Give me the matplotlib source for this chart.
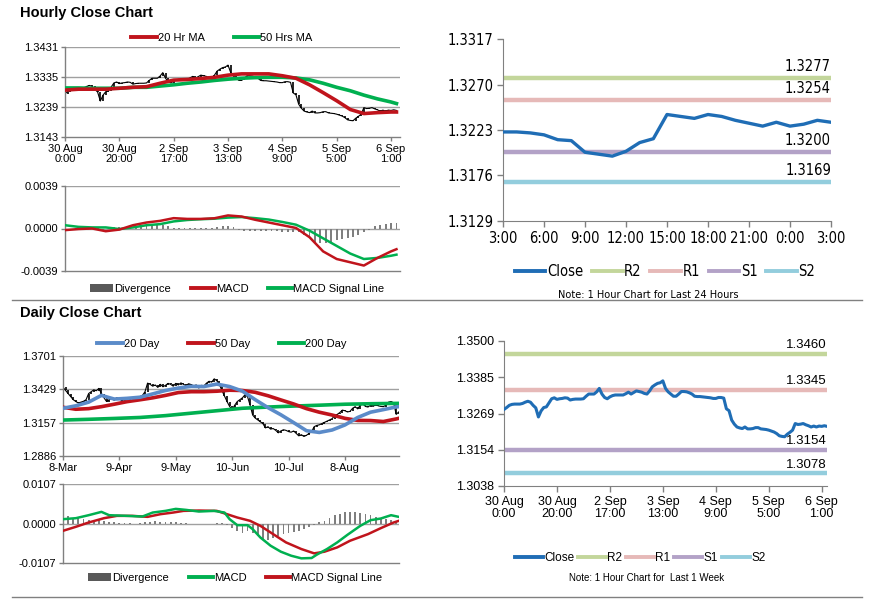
import matplotlib
matplotlib.use('Agg')
import matplotlib.pyplot as plt
import numpy as np
from matplotlib.lines import Line2D
from matplotlib.patches import Patch
from matplotlib import font_manager as fm
from matplotlib.font_manager import FontProperties

plt.rcParams['font.family'] = ['Liberation Sans', 'DejaVu Sans']

# ---------------- data ----------------
# hourly closes, 30 Aug 0:00 .. 6 Sep 2:00 (trading hours)
hourly_close = [
    1.3282, 1.3288, 1.3295, 1.3298, 1.3299, 1.3299, 1.3299, 1.3301, 1.3305, 1.3308,
    1.3305, 1.3295, 1.3287, 1.3258, 1.3277, 1.3288, 1.3290, 1.3303, 1.3316, 1.3319,
    1.3314, 1.3316, 1.3317, 1.3319, 1.3318, 1.3312, 1.3314, 1.3315, 1.3315, 1.3315,
    1.3316, 1.3324, 1.3331, 1.3331, 1.3331, 1.3338, 1.3349, 1.3331, 1.3320, 1.3316,
    1.3322, 1.3326, 1.3328, 1.3328, 1.3328, 1.3328, 1.3332, 1.3337, 1.3331, 1.3336,
    1.3341, 1.3339, 1.3337, 1.3333, 1.3331, 1.3341, 1.3354, 1.3360, 1.3365, 1.3367,
    1.3373, 1.3349, 1.3338, 1.3331, 1.3324, 1.3324, 1.3331, 1.3339, 1.3339, 1.3338,
    1.3335, 1.3331, 1.3324, 1.3323, 1.3323, 1.3322, 1.3321, 1.3320, 1.3319, 1.3317,
    1.3317, 1.3320, 1.3320, 1.3318, 1.3284, 1.3278, 1.3248, 1.3235, 1.3226, 1.3223,
    1.3221, 1.3226, 1.3220, 1.3220, 1.3221, 1.3224, 1.3224, 1.3220, 1.3219, 1.3218,
    1.3216, 1.3213, 1.3210, 1.3205, 1.3198, 1.3196, 1.3195, 1.3203, 1.3209, 1.3216,
    1.3237, 1.3234, 1.3235, 1.3237, 1.3233, 1.3230, 1.3226, 1.3229, 1.3226, 1.3229,
    1.3228, 1.3230, 1.3228]
hourly_ticklabels = ['30 Aug\n0:00', '30 Aug\n20:00', '2 Sep\n17:00', '3 Sep\n13:00',
                     '4 Sep\n9:00', '5 Sep\n5:00', '6 Sep\n1:00']

ma_idx = [0, 5, 10, 15, 20, 25, 30, 35, 40, 45, 50, 55, 60, 65, 70, 75, 80, 85, 90,
          95, 100, 105, 110, 115, 120, 122]
ma20h = [1.3293, 1.3296, 1.3296, 1.3296, 1.3299, 1.3302, 1.3304, 1.3315, 1.3325, 1.3327,
         1.3330, 1.3334, 1.3341, 1.3345, 1.3345, 1.3345, 1.3339, 1.3331, 1.3310, 1.3285,
         1.3259, 1.3231, 1.3218, 1.3221, 1.3223, 1.3223]
ma50h = [1.3300, 1.3300, 1.3299, 1.3299, 1.3299, 1.3302, 1.3302, 1.3306, 1.3310, 1.3315,
         1.3319, 1.3324, 1.3328, 1.3331, 1.3333, 1.3334, 1.3334, 1.3332, 1.3326, 1.3315,
         1.3302, 1.3291, 1.3277, 1.3265, 1.3255, 1.3250]

macd_h = [-0.00015, -0.00005, 0.0, -0.00025, -0.0001, 0.0003, 0.00055, 0.0007, 0.00095,
          0.00088, 0.00088, 0.00094, 0.0012, 0.0011, 0.0008, 0.00055, 0.0003, 0.00005,
          -0.0008, -0.0021, -0.0028, -0.0031, -0.0034, -0.0027, -0.0021, -0.0019]
signal_h = [0.0003, 0.00015, 0.0001, 0.0001, -0.00005, 0.0001, 0.0003, 0.0004, 0.00065,
            0.00078, 0.00085, 0.0009, 0.001, 0.00105, 0.00095, 0.00082, 0.0006, 0.00035,
            -0.0002, -0.0009, -0.0016, -0.0023, -0.0028, -0.0027, -0.0025, -0.0024]
div_h = [-0.0001, -0.0001, 0.00005, 0.0001, 0.0001, 0.0001, 0.00005, -0.0001, 0.0, 0.0001,
         0.0001, 0.00015, 0.0001, 0.00015, 0.0002, 0.0002, 0.0002, 0.0003, 0.0003, 0.0002,
         0.00005, 0.00005, 0.00005, 0.00005, 0.00005, 0.00005, 0.00005, 0.00005, 0.0001, 0.0002,
         0.00025, 0.0001, -0.0001, -0.0002, -0.0002, -0.0002, -0.0002, -0.0002, -0.0002, -0.00025,
         -0.0003, -0.0003, -0.0003, -0.0003, -0.0006, -0.0009, -0.0012, -0.0013, -0.0013, -0.0012,
         -0.0011, -0.0010, -0.0009, -0.0008, -0.0006, -0.0003, -0.0001, 0.0002, 0.0003, 0.0004,
         0.0005, 0.0005]

# last 24 hours
close_24h = [1.3221, 1.3221, 1.3220, 1.3218, 1.3213, 1.3212, 1.3200, 1.3198, 1.3196, 1.3201,
             1.3210, 1.3214, 1.3239, 1.3237, 1.3235, 1.3239, 1.3237, 1.3233, 1.3230, 1.3227,
             1.3231, 1.3227, 1.3229, 1.3233, 1.3231]
ticklabels_24h = ['3:00', '6:00', '9:00', '12:00', '15:00', '18:00', '21:00', '0:00', '3:00']
level_names = ['R2', 'R1', 'S1', 'S2']
levels_24h = [1.3277, 1.3254, 1.3200, 1.3169]
levels_week = [1.3460, 1.3345, 1.3154, 1.3078]

# daily
daily_close = [
    1.3446, 1.3420, 1.3395, 1.3370, 1.3345, 1.3330, 1.3318, 1.3325, 1.3332, 1.3345,
    1.3395, 1.3410, 1.3425, 1.3418, 1.3437, 1.3395, 1.3360, 1.3330, 1.3345, 1.3356,
    1.3340, 1.3362, 1.3350, 1.3338, 1.3345, 1.3335, 1.3350, 1.3358, 1.3365, 1.3360,
    1.3370, 1.3380, 1.3410, 1.3480, 1.3470, 1.3455, 1.3465, 1.3445, 1.3470, 1.3450,
    1.3462, 1.3478, 1.3470, 1.3455, 1.3478, 1.3465, 1.3482, 1.3470, 1.3460, 1.3475,
    1.3468, 1.3458, 1.3465, 1.3440, 1.3462, 1.3458, 1.3480, 1.3495, 1.3488, 1.3515,
    1.3500, 1.3470, 1.3420, 1.3375, 1.3330, 1.3290, 1.3265, 1.3300, 1.3330, 1.3345,
    1.3360, 1.3385, 1.3370, 1.3300, 1.3220, 1.3195, 1.3180, 1.3165, 1.3150, 1.3115,
    1.3125, 1.3105, 1.3110, 1.3095, 1.3075, 1.3090, 1.3100, 1.3095, 1.3085, 1.3080,
    1.3090, 1.3070, 1.3050, 1.3060, 1.3045, 1.3055, 1.3070, 1.3085, 1.3125, 1.3135,
    1.3140, 1.3150, 1.3160, 1.3170, 1.3180, 1.3190, 1.3215, 1.3225, 1.3240, 1.3260,
    1.3255, 1.3245, 1.3250, 1.3275, 1.3288, 1.3270, 1.3300, 1.3310, 1.3290, 1.3285,
    1.3300, 1.3290, 1.3305, 1.3295, 1.3290, 1.3288, 1.3300, 1.3325, 1.3330, 1.3320,
    1.3225, 1.3245]
daily_ticklabels = ['8-Mar', '9-Apr', '9-May', '10-Jun', '10-Jul', '8-Aug']

dma_idx = [0, 5, 10, 15, 20, 25, 30, 35, 40, 45, 50, 55, 60, 65, 70, 75, 80, 85, 90,
           95, 100, 105, 110, 115, 120, 125, 130, 131]
ma20d = [1.3275, 1.3295, 1.3325, 1.3380, 1.3350, 1.3356, 1.3365, 1.3392, 1.3420, 1.3440,
         1.3454, 1.3452, 1.3472, 1.3452, 1.3415, 1.3345, 1.3280, 1.3222, 1.3158, 1.3092,
         1.3078, 1.3098, 1.3139, 1.3200, 1.3243, 1.3264, 1.3286, 1.3288]
ma50d = [1.3283, 1.3267, 1.3272, 1.3288, 1.3308, 1.3329, 1.3344, 1.3360, 1.3380, 1.3403,
         1.3410, 1.3410, 1.3414, 1.3422, 1.3420, 1.3405, 1.3377, 1.3343, 1.3310, 1.3272,
         1.3243, 1.3220, 1.3193, 1.3176, 1.3175, 1.3167, 1.3188, 1.3193]
ma200_idx = [0, 10, 20, 30, 40, 50, 60, 70, 80, 90, 100, 110, 120, 131]
ma200d = [1.3179, 1.3185, 1.3192, 1.3200, 1.3215, 1.3235, 1.3255, 1.3275, 1.3285, 1.3293,
          1.3300, 1.3308, 1.3312, 1.3315]

macd_idx = [0, 5, 10, 15, 18, 25, 31, 35, 40, 44, 48, 53, 59, 63, 65, 68, 72, 74, 77, 81,
            85, 89, 93, 97, 99, 103, 107, 111, 116, 120, 124, 128, 131]
macd_d = [0.00117, 0.00144, 0.00225, 0.00315, 0.00225, 0.00207, 0.00189, 0.00297, 0.00342,
          0.00396, 0.00369, 0.00324, 0.00342, 0.00297, 0.00117, -0.00045, -0.00045, -0.00153,
          -0.00378, -0.00602, -0.00764, -0.00872, -0.00944, -0.00935, -0.00845, -0.00692,
          -0.00512, -0.00306, -0.00063, 0.0009, 0.00135, 0.00225, 0.0018]
signal_idx = [0, 5, 10, 16, 21, 27, 33, 38, 43, 47, 53, 60, 64, 68, 73, 77, 82, 87, 93, 98,
              102, 107, 112, 119, 124, 129, 131]
signal_d = [-0.00198, -0.0009, 0.00027, 0.00144, 0.00207, 0.00207, 0.0018, 0.00252, 0.00297,
            0.00342, 0.00351, 0.00342, 0.00252, 0.00162, 0.00072, -0.00063, -0.00288, -0.00512,
            -0.00692, -0.00809, -0.00764, -0.00647, -0.00467, -0.00288, -0.00126, 0.00027, 0.00072]
div_d = [0.0022, 0.0020, 0.0016, 0.0014, 0.0012, 0.0010, 0.0008, 0.0010, 0.0008, 0.0005,
         0.0003, 0.0002, 0.0001, 0.00005, 0.0, 0.0002, 0.0004, 0.0005, 0.0006, 0.0005,
         0.0005, 0.0004, 0.0003, 0.0001, 0.00005, 0.0, 0.0, 0.0, 0.0, 0.0,
         0.0001, 0.0002, -0.0005, -0.0012, -0.0020, -0.0025, -0.0020, -0.0025, -0.0035, -0.0042,
         -0.0045, -0.0040, -0.0034, -0.0028, -0.0025, -0.0022, -0.0020, -0.0015, -0.0010, -0.0003,
         0.0003, 0.0008, 0.0015, 0.0022, 0.0027, 0.0030, 0.0030, 0.0030, 0.0028, 0.0025,
         0.0022, 0.0018, 0.0015, 0.0012, 0.0010, 0.0008]

# ---------------- narrow font lookup ----------------
narrow_path = None
_cands = []
for f in fm.fontManager.ttflist:
    nm = f.name.lower()
    if f.style != 'normal':
        continue
    if str(f.weight) not in ('400', 'normal', 'regular', 'book'):
        continue
    if 'mono' in nm or ('serif' in nm and 'sans' not in nm):
        continue
    if 'narrow' in nm or 'condensed' in nm or str(f.stretch) in ('condensed', 'semi-condensed'):
        rank = 0 if 'liberation' in nm else (1 if 'arial' in nm else 2)
        _cands.append((rank, f.fname))
if _cands:
    _cands.sort()
    narrow_path = _cands[0][1]


def nprop(size):
    if narrow_path:
        return FontProperties(fname=narrow_path, size=size)
    return FontProperties(family=['Liberation Sans', 'DejaVu Sans'], size=size * 0.9)

# ---------------- style ----------------
RED = '#C0141C'
GREEN = '#00B050'
BLUE20 = '#5B8BC9'
CLOSE = '#1F6DB5'
LVL_COLORS = ['#C3D69B', '#E6B9B8', '#B3A2C7', '#93CDDD']
GRID = '#A0A0A0'
SPINE = '#808080'
DIVC = '#7F7F7F'

W, H = 873, 601
fig = plt.figure(figsize=(W / 100, H / 100), dpi=100)


def ax_px(l, t, r, b):
    return fig.add_axes([l / W, 1 - b / H, (r - l) / W, (b - t) / H])


def style_left(ax, yt, fs=8):
    for s in ['top', 'right']:
        ax.spines[s].set_visible(False)
    for s in ['left', 'bottom']:
        ax.spines[s].set_color(SPINE)
        ax.spines[s].set_linewidth(1)
    ax.set_yticks(yt)
    ax.set_ylim(yt[0], yt[-1])
    for v in yt[1:]:
        ax.axhline(v, color=GRID, lw=1, zorder=0)
    ax.tick_params(axis='both', colors=SPINE, labelcolor='black', labelsize=fs,
                   length=3, width=1, direction='out', pad=2)


def price_bars(ax, vals):
    x = np.arange(len(vals))
    v = np.asarray(vals)
    prev = np.concatenate([[v[0]], v[:-1]])
    ax.vlines(x, np.minimum(prev, v), np.maximum(prev, v), color='black', lw=1.2, zorder=2)
    ax.plot(x, v, color='black', lw=0.8, zorder=2)


# ---- top-left hourly price ----
ax1 = ax_px(65, 47, 400, 137)
price_bars(ax1, hourly_close)
ax1.plot(ma_idx, ma50h, color=GREEN, lw=2.6, zorder=3)
ax1.plot(ma_idx, ma20h, color=RED, lw=2.6, zorder=4)
style_left(ax1, [1.3143, 1.3239, 1.3335, 1.3431])
ax1.yaxis.set_major_formatter(matplotlib.ticker.FormatStrFormatter('%.4f'))
ax1.set_xlim(0, 123.3)
ax1.set_xticks(np.arange(0, 121, 20))
ax1.set_xticklabels(hourly_ticklabels, linespacing=1.0)

# ---- top-left MACD ----
ax2 = ax_px(65, 186, 400, 271)
ax2.bar(np.arange(0, 123, 2), div_h, width=0.7, color=DIVC, zorder=1)
ax2.plot(ma_idx, signal_h, color=GREEN, lw=1.8, zorder=3)
ax2.plot(ma_idx, macd_h, color=RED, lw=1.8, zorder=4)
style_left(ax2, [-0.0039, 0.0, 0.0039])
ax2.yaxis.set_major_formatter(matplotlib.ticker.FormatStrFormatter('%.4f'))
ax2.set_xlim(0, 123.3)
ax2.set_xticks([])

# ---- top-right 24h ----
ax3 = ax_px(503, 39, 831, 221)
for lv, c in zip(levels_24h, LVL_COLORS):
    ax3.axhline(lv, color=c, lw=3.2, zorder=1)
    ax3.annotate(f'{lv:.4f}', xy=(24, lv), xytext=(0, 3), textcoords='offset points',
                 ha='right', va='bottom', fontproperties=nprop(10.5))
ax3.plot(np.arange(len(close_24h)), close_24h, color=CLOSE, lw=2.4, zorder=3)
for s in ['top', 'right']:
    ax3.spines[s].set_visible(False)
for s in ['left', 'bottom']:
    ax3.spines[s].set_color(SPINE)
ax3.set_xlim(0, 24)
ax3.set_ylim(1.3129, 1.3317)
yt3 = [1.3129, 1.3176, 1.3223, 1.3270, 1.3317]
ax3.set_yticks(yt3)
ax3.set_yticklabels(['%.4f' % v for v in yt3])
ax3.set_xticks(np.arange(0, 25, 3))
ax3.set_xticklabels(ticklabels_24h)
for lab in ax3.get_xticklabels() + ax3.get_yticklabels():
    lab.set_fontproperties(nprop(10.5))
ax3.tick_params(axis='both', colors=SPINE, labelcolor='black', length=4, width=1, pad=3)

# ---- bottom-left daily ----
ax4 = ax_px(63, 356, 399, 456)
price_bars(ax4, daily_close)
ax4.plot(ma200_idx, ma200d, color=GREEN, lw=2.6, zorder=3)
ax4.plot(dma_idx, ma50d, color=RED, lw=2.6, zorder=4)
ax4.plot(dma_idx, ma20d, color=BLUE20, lw=2.6, zorder=5)
style_left(ax4, [1.2886, 1.3157, 1.3429, 1.3701])
ax4.yaxis.set_major_formatter(matplotlib.ticker.FormatStrFormatter('%.4f'))
ax4.set_xlim(0, 131.1)
ax4.set_xticks(np.arange(0, 111, 22))
ax4.set_xticklabels(daily_ticklabels)

# ---- bottom-left MACD ----
ax5 = ax_px(63, 484, 399, 563)
ax5.bar(np.arange(0, 131, 2), div_d, width=0.7, color=DIVC, zorder=1)
ax5.plot(signal_idx, signal_d, color=RED, lw=1.8, zorder=3)
ax5.plot(macd_idx, macd_d, color=GREEN, lw=1.8, zorder=4)
style_left(ax5, [-0.0107, 0.0, 0.0107])
ax5.yaxis.set_major_formatter(matplotlib.ticker.FormatStrFormatter('%.4f'))
ax5.set_xlim(0, 131.1)
ax5.set_xticks([])

# ---- bottom-right week ----
ax6 = ax_px(504, 341, 827, 486)
for lv, c in zip(levels_week, LVL_COLORS):
    ax6.axhline(lv, color=c, lw=3.2, zorder=1)
    ax6.annotate(f'{lv:.4f}', xy=(122, lv), xytext=(0, 2), textcoords='offset points',
                 ha='right', va='bottom', fontsize=9.5)
ax6.plot(np.arange(len(hourly_close)), hourly_close, color=CLOSE, lw=2.2, zorder=3)
for s in ['top', 'right']:
    ax6.spines[s].set_visible(False)
for s in ['left', 'bottom']:
    ax6.spines[s].set_color(SPINE)
ax6.set_xlim(0, 122)
ax6.set_ylim(1.3038, 1.3500)
ax6.set_yticks([1.3038, 1.3154, 1.3269, 1.3385, 1.3500])
ax6.yaxis.set_major_formatter(matplotlib.ticker.FormatStrFormatter('%.4f'))
ax6.set_xticks(np.arange(0, 121, 20))
ax6.set_xticklabels(hourly_ticklabels, linespacing=1.0)
ax6.tick_params(axis='both', colors=SPINE, labelcolor='black', labelsize=9, length=4,
                width=1, pad=3)

# ---------------- legends & text ----------------
def leg(handles, labels, x, y, prop, hl=2.3, cs=2.0):
    if not isinstance(prop, FontProperties):
        prop = {'size': prop}
    fig.legend(handles, labels, loc='center', bbox_to_anchor=(x / W, 1 - y / H), ncol=len(labels),
               frameon=False, prop=prop, handlelength=hl, handletextpad=0.1, columnspacing=cs,
               borderpad=0, borderaxespad=0)


L = lambda c, lw=2.8: Line2D([], [], color=c, lw=lw)
divpatch = Patch(facecolor='#595959', edgecolor='none')

leg([L(RED), L(GREEN)], ['20 Hr MA', '50 Hrs MA'], 222, 38, 8, cs=2.6)
leg([divpatch, L(RED), L(GREEN)], ['Divergence', 'MACD', 'MACD Signal Line'], 237, 289, 8,
    hl=2.1, cs=1.8)
leg([L(CLOSE)] + [L(c) for c in LVL_COLORS], ['Close'] + level_names, 665, 272, nprop(10.5),
    hl=2.1, cs=0.6)
fig.text(648 / W, 1 - 295 / H, 'Note: 1 Hour Chart for Last 24 Hours', ha='center', va='center',
         fontproperties=nprop(7.8))
leg([L(BLUE20), L(RED), L(GREEN)], ['20 Day', '50 Day', '200 Day'], 222, 344, 8, cs=2.6)
leg([divpatch, L(GREEN), L(RED)], ['Divergence', 'MACD', 'MACD Signal Line'], 235, 578, 8,
    hl=2.1, cs=1.8)
leg([L(CLOSE)] + [L(c) for c in LVL_COLORS], ['Close'] + level_names, 640, 558, 8.5,
    hl=2.4, cs=0.3)
fig.text(647 / W, 1 - 578 / H, 'Note: 1 Hour Chart for  Last 1 Week', ha='center', va='center',
         fontsize=7)

fig.text(20 / W, 1 - 13 / H, 'Hourly Close Chart', fontsize=10.5, fontweight='bold', va='center')
fig.text(20 / W, 1 - 313 / H, 'Daily Close Chart', fontsize=10.5, fontweight='bold', va='center')

for yy in [300, 597]:
    fig.add_artist(Line2D([12 / W, 862 / W], [1 - yy / H, 1 - yy / H], color='#808080', lw=1))

fig.savefig('out.png', dpi=100)
